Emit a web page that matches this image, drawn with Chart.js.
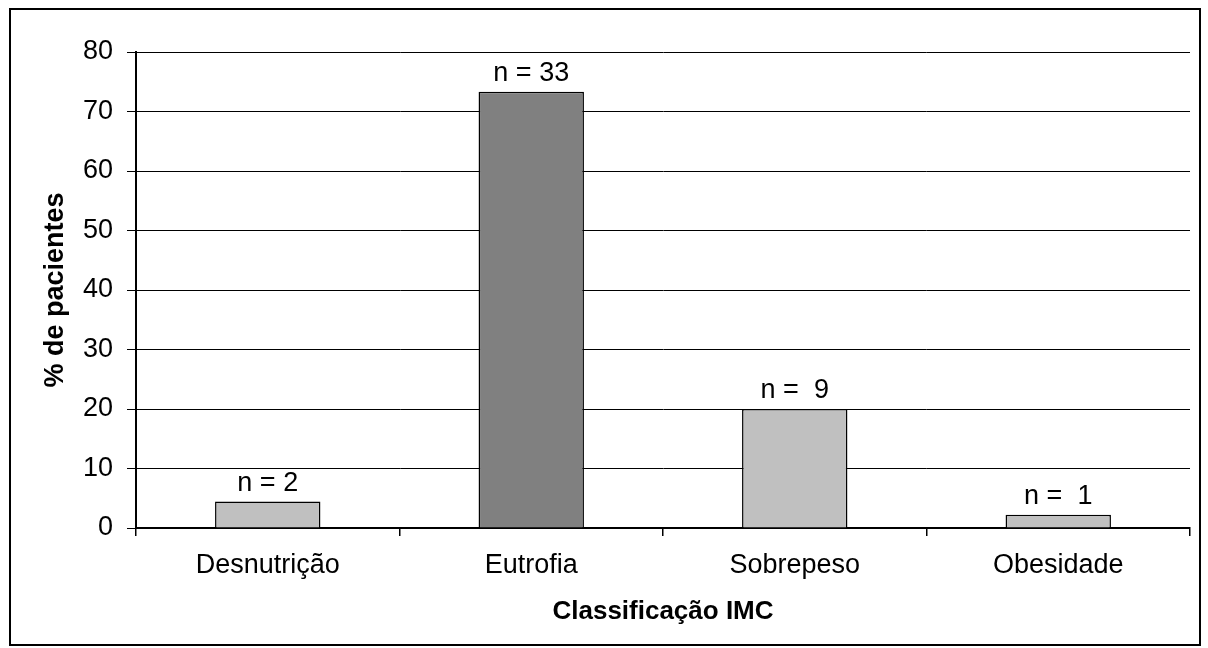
<!DOCTYPE html>
<html>
<head>
<meta charset="utf-8">
<script src="https://cdn.jsdelivr.net/npm/chart.js@4/dist/chart.umd.min.js"></script>
<style>
  html, body { margin: 0; padding: 0; background: #fff; }
  #wrap { width: 1208px; height: 648px; }
</style>
</head>
<body>
<div id="wrap"><canvas id="imcChart" width="1208" height="648"></canvas></div>
<script>
// Data (percent of 45 patients)
const categories = ['Desnutrição', 'Eutrofia', 'Sobrepeso', 'Obesidade'];
const percentValues = [4.44, 73.33, 20, 2.22];
const countLabels = ['n = 2', 'n = 33', 'n =  9', 'n =  1'];
const barColors = ['#c0c0c0', '#808080', '#c0c0c0', '#c0c0c0'];

const FONT = '"Liberation Sans", Arial, sans-serif';

// outer frame around the whole picture
const framePlugin = {
    id: 'frame',
    afterDraw(chart) {
        const ctx = chart.ctx;
        ctx.save();
        ctx.strokeStyle = '#000';
        ctx.lineWidth = 2;
        ctx.strokeRect(10, 9, 1190, 636);
        ctx.restore();
    }
};

// "n = x" labels above each bar
const countLabelPlugin = {
    id: 'countLabels',
    afterDatasetsDraw(chart) {
        const ctx = chart.ctx;
        const meta = chart.getDatasetMeta(0);
        ctx.save();
        ctx.font = '27px ' + FONT;
        ctx.fillStyle = '#000';
        ctx.textAlign = 'center';
        ctx.textBaseline = 'alphabetic';
        meta.data.forEach((bar, i) => {
            ctx.fillText(countLabels[i], bar.x, bar.y - 11);
        });
        ctx.restore();
    }
};

new Chart(document.getElementById('imcChart'), {
    type: 'bar',
    data: {
        labels: categories,
        datasets: [{
            data: percentValues,
            backgroundColor: barColors,
            borderColor: '#000',
            borderWidth: 1.5,
            categoryPercentage: 1,
            barPercentage: 0.4
        }]
    },
    options: {
        responsive: false,
        animation: false,
        layout: { padding: { top: 52, right: 18, left: 0, bottom: 0 } },
        plugins: {
            legend: { display: false },
            tooltip: { enabled: false }
        },
        scales: {
            x: {
                afterFit(scale) { scale.height = 120; },
                offset: true,
                grid: {
                    offset: true,
                    drawOnChartArea: false,
                    drawTicks: true,
                    tickLength: 8,
                    color: '#000',
                    lineWidth: 1.5
                },
                border: { display: true, color: '#000', width: 2 },
                ticks: {
                    color: '#000',
                    font: { family: FONT, size: 27 },
                    padding: 13,
                    maxRotation: 0
                },
                title: {
                    display: true,
                    text: 'Classificação IMC',
                    color: '#000',
                    font: { family: FONT, size: 26, weight: 'bold' },
                    padding: { top: 0, bottom: 21 }
                }
            },
            y: {
                afterFit(scale) { scale.width = 136; },
                min: 0,
                max: 80,
                ticks: {
                    stepSize: 10,
                    color: '#000',
                    font: { family: FONT, size: 27 },
                    padding: 14
                },
                grid: {
                    color: '#000',
                    lineWidth: 1,
                    tickLength: 9
                },
                border: { display: true, color: '#000', width: 2 },
                title: {
                    display: true,
                    text: '% de pacientes',
                    color: '#000',
                    font: { family: FONT, size: 27, weight: 'bold' },
                    padding: { top: 39, bottom: 0 }
                }
            }
        }
    },
    plugins: [framePlugin, countLabelPlugin]
});
</script>
</body>
</html>
